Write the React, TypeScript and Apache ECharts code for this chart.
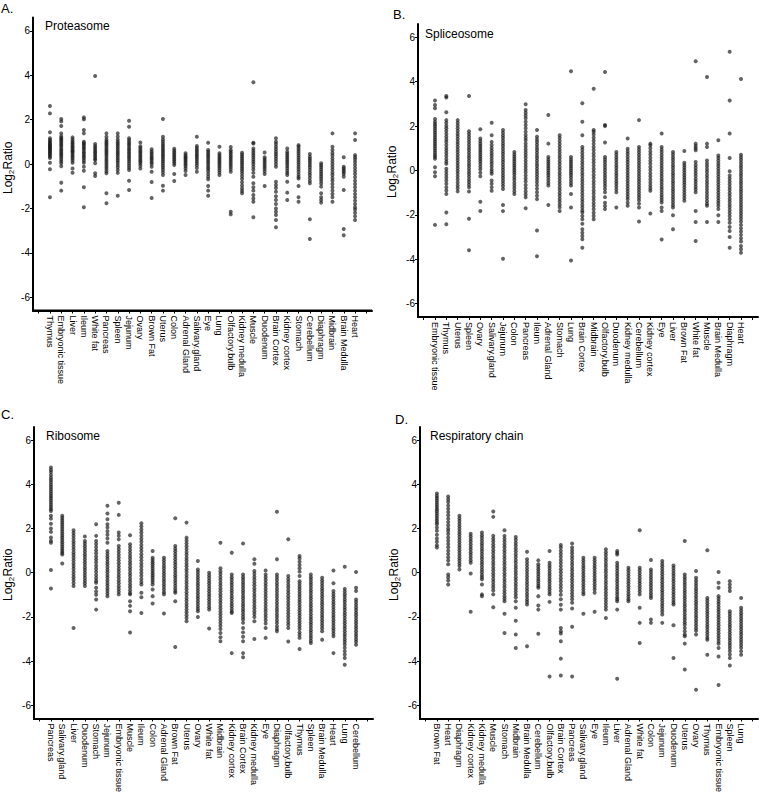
import React, { useEffect, useRef } from "react";
import * as echarts from "echarts";

const FONT = "'Liberation Sans', Arial, Helvetica, sans-serif";

// ---------- Panel A: Proteasome ----------
const proteasomeTissues = ["Thymus", "Embryonic tissue", "Liver", "Ileum", "White fat", "Pancreas", "Spleen", "Jejunum", "Ovary", "Brown Fat", "Uterus", "Colon", "Adrenal Gland", "Salivary.gland", "Eye", "Lung", "Olfactory.bulb", "Kidney medulla", "Muscle", "Duodenum", "Brain Cortex", "Kidney cortex", "Stomach", "Cerebellum", "Diaphragm", "Midbrain", "Brain Medulla", "Heart"];
const proteasomeValues = [
  [2.61, 2.28, 1.43, 1.16, 1.08, 1.02, 0.96, 0.9, 0.86, 0.81, 0.77, 0.72, 0.68, 0.63, 0.57, 0.52, 0.46, 0.41, 0.34, 0.27, 0.06, -0.24, -1.5],
  [2.03, 1.92, 1.71, 1.38, 1.25, 1.17, 1.12, 1.05, 0.98, 0.9, 0.83, 0.75, 0.66, 0.6, 0.52, 0.45, 0.38, 0.3, 0.21, 0.12, 0.03, -0.1, -0.84, -1.2],
  [1.2, 1.1, 1.02, 0.95, 0.88, 0.8, 0.74, 0.66, 0.6, 0.55, 0.48, 0.4, 0.33, 0.25, 0.16, 0.06, -0.2, -0.39],
  [2.1, 2.01, 1.53, 1.38, 1.0, 0.93, 0.88, 0.8, 0.72, 0.65, 0.55, 0.48, 0.4, 0.33, 0.25, 0.15, 0.05, -0.12, -0.3, -1.05, -1.95],
  [3.96, 0.9, 0.8, 0.72, 0.63, 0.55, 0.48, 0.4, 0.33, 0.24, 0.18, 0.03, -0.42, -0.54],
  [1.38, 1.23, 1.1, 1.02, 0.95, 0.88, 0.8, 0.71, 0.63, 0.55, 0.47, 0.4, 0.31, 0.22, 0.14, 0.05, -0.04, -0.13, -0.22, -0.33, -0.42, -1.32, -1.77],
  [1.38, 1.24, 1.1, 1.0, 0.92, 0.84, 0.75, 0.66, 0.58, 0.5, 0.42, 0.33, 0.24, 0.15, 0.06, -0.05, -0.15, -0.27, -0.4, -1.43],
  [1.95, 1.68, 1.16, 1.07, 0.98, 0.9, 0.82, 0.72, 0.64, 0.55, 0.47, 0.38, 0.3, 0.22, 0.13, 0.03, -0.07, -0.17, -0.27, -0.75, -1.17],
  [0.97, 0.8, 0.72, 0.63, 0.55, 0.48, 0.4, 0.33, 0.25, 0.17, 0.1, 0.02, -0.08, -0.2],
  [0.66, 0.56, 0.48, 0.4, 0.32, 0.25, 0.17, 0.08, 0.0, -0.12, -0.35, -0.81, -1.53],
  [2.03, 1.23, 1.1, 1.0, 0.9, 0.81, 0.72, 0.63, 0.55, 0.46, 0.38, 0.3, 0.21, 0.12, 0.03, -0.07, -0.16, -0.26, -0.37, -0.5, -0.98, -1.2],
  [0.69, 0.6, 0.52, 0.44, 0.36, 0.28, 0.2, 0.12, 0.04, -0.05, -0.45, -0.77],
  [0.48, 0.4, 0.33, 0.27, 0.2, 0.13, 0.06, -0.02, -0.1, -0.2, -0.32, -0.5],
  [1.23, 0.81, 0.72, 0.63, 0.55, 0.46, 0.38, 0.3, 0.22, 0.13, 0.04, -0.06, -0.18, -0.35],
  [0.96, 0.63, 0.55, 0.46, 0.38, 0.3, 0.21, 0.12, 0.04, -0.05, -0.14, -0.23, -0.33, -0.45, -0.57, -0.69, -0.99, -1.2, -1.43],
  [0.78, 0.48, 0.4, 0.32, 0.24, 0.16, 0.08, 0.0, -0.09, -0.18, -0.28, -0.38, -0.5],
  [0.77, 0.63, 0.55, 0.47, 0.38, 0.3, 0.22, 0.14, 0.05, -0.04, -0.13, -0.24, -0.35, -2.15, -2.27],
  [0.51, 0.42, 0.33, 0.24, 0.15, 0.06, -0.03, -0.13, -0.22, -0.32, -0.43, -0.55, -0.68, -0.82, -0.97, -1.1, -1.22, -1.32],
  [3.68, 0.96, 0.92, 0.7, 0.6, 0.5, 0.4, 0.3, 0.2, 0.1, 0.0, -0.12, -0.25, -0.4, -0.57, -0.87, -1.05, -1.2, -1.4, -1.55, -1.7, -2.4],
  [0.52, 0.3, 0.22, 0.14, 0.05, -0.04, -0.13, -0.22, -0.33, -0.45, -0.99],
  [1.16, 1.0, 0.9, 0.78, 0.66, 0.55, 0.45, 0.35, 0.24, 0.12, 0.0, -0.12, -0.8, -0.95, -1.08, -1.25, -1.45, -1.62, -1.8, -2.0, -2.15, -2.3, -2.52, -2.85],
  [0.7, 0.55, 0.46, 0.37, 0.28, 0.19, 0.1, 0.01, -0.09, -0.19, -0.3, -0.4, -0.5, -0.8, -1.29, -1.62],
  [0.85, 0.78, 0.68, 0.58, 0.48, 0.38, 0.28, 0.18, 0.08, -0.02, -0.13, -0.24, -0.35, -0.47, -0.58, -0.65, -0.99, -1.5, -1.7],
  [0.45, 0.33, 0.24, 0.15, 0.05, -0.05, -0.15, -0.26, -0.38, -0.5, -0.62, -0.75, -0.87, -2.49, -3.38],
  [0.03, -0.06, -0.15, -0.25, -0.35, -0.45, -0.55, -0.65, -0.76, -0.88, -1.02, -1.32, -1.5, -1.62, -1.74],
  [1.38, 0.78, 0.63, 0.5, 0.38, 0.25, 0.12, 0.0, -0.12, -0.25, -0.38, -0.5, -0.63, -0.75, -0.9, -1.05, -1.2, -1.35, -1.5, -1.7],
  [0.3, -0.12, -0.2, -0.28, -0.36, -0.45, -0.57, -1.17, -2.93, -3.21],
  [1.38, 1.08, 0.4, 0.3, 0.2, 0.08, -0.05, -0.18, -0.32, -0.45, -0.6, -0.75, -0.9, -1.05, -1.2, -1.35, -1.5, -1.65, -1.8, -1.95, -2.05, -2.2, -2.35, -2.52],
];

// ---------- Panel B: Spliceosome ----------
const spliceosomeTissues = ["Embryonic tissue", "Thymus", "Uterus", "Spleen", "Ovary", "Salivary.gland", "Jejunum", "Colon", "Pancreas", "Ileum", "Adrenal Gland", "Stomach", "Lung", "Brain Cortex", "Midbrain", "Olfactory.bulb", "Duodenum", "Kidney medulla", "Cerebellum", "Kidney cortex", "Eye", "Liver", "Brown Fat", "White fat", "Muscle", "Brain Medulla", "Diaphragm", "Heart"];
const spliceosomeValues = [
  [3.15, 2.95, 2.8, 2.32, 2.2, 2.1, 2.0, 1.9, 1.8, 1.7, 1.6, 1.5, 1.4, 1.3, 1.2, 1.1, 1.0, 0.9, 0.8, 0.7, 0.62, 0.53, 0.15, -0.08, -0.26, -2.45],
  [3.36, 3.29, 2.62, 2.27, 2.15, 2.02, 1.9, 1.78, 1.65, 1.52, 1.4, 1.28, 1.15, 1.02, 0.9, 0.78, 0.65, 0.52, 0.4, 0.3, 0.08, -0.05, -0.18, -0.32, -0.45, -0.6, -0.75, -0.9, -1.06, -1.89, -2.42],
  [2.27, 2.15, 2.03, 1.9, 1.78, 1.66, 1.54, 1.42, 1.3, 1.18, 1.06, 0.94, 0.82, 0.7, 0.58, 0.46, 0.34, 0.22, 0.1, -0.02, -0.14, -0.27, -0.4, -0.54, -0.68, -0.8, -0.94],
  [3.36, 1.77, 1.65, 1.53, 1.41, 1.29, 1.17, 1.05, 0.93, 0.81, 0.69, 0.57, 0.45, 0.33, 0.21, 0.09, -0.03, -0.15, -0.27, -0.4, -0.52, -0.64, -0.76, -0.95, -2.17, -3.59],
  [1.86, 1.44, 1.33, 1.22, 1.12, 1.02, 0.92, 0.82, 0.72, 0.62, 0.52, 0.42, 0.3, 0.18, 0.06, -0.1, -0.26, -1.41, -1.82],
  [2.15, 1.59, 1.29, 1.15, 1.02, 0.9, 0.78, 0.66, 0.54, 0.42, 0.3, 0.18, 0.05, -0.05, -0.15, -0.45, -0.6, -0.75, -0.91],
  [1.82, 1.7, 1.58, 1.46, 1.34, 1.22, 1.1, 0.98, 0.86, 0.74, 0.62, 0.5, 0.38, 0.26, 0.14, 0.02, -0.1, -0.22, -0.34, -0.46, -0.58, -0.7, -0.83, -1.55, -1.83, -3.98],
  [0.83, 0.72, 0.62, 0.52, 0.42, 0.32, 0.22, 0.12, 0.02, -0.08, -0.18, -0.3, -0.42, -0.55, -0.68, -0.8, -0.93, -1.06],
  [2.98, 2.73, 2.6, 2.48, 2.35, 2.2, 2.05, 1.9, 1.75, 1.6, 1.48, 1.36, 1.22, 1.08, 0.95, 0.82, 0.7, 0.57, 0.44, 0.31, 0.18, 0.05, -0.08, -0.22, -0.36, -0.5, -0.65, -0.8, -0.95, -1.08, -1.21, -1.7],
  [1.82, 1.52, 1.4, 1.28, 1.16, 1.04, 0.92, 0.8, 0.68, 0.56, 0.44, 0.32, 0.2, 0.08, -0.04, -0.16, -0.28, -0.4, -0.53, -0.67, -0.82, -0.98, -1.14, -1.29, -2.7, -3.86],
  [2.5, 1.21, 0.61, 0.5, 0.4, 0.3, 0.2, 0.1, 0.0, -0.1, -0.2, -0.32, -0.44, -0.56, -0.68, -1.55],
  [1.59, 1.46, 1.33, 1.2, 1.07, 0.94, 0.81, 0.68, 0.55, 0.42, 0.29, 0.16, 0.03, -0.1, -0.23, -0.36, -0.49, -0.62, -0.75, -0.88, -1.01, -1.14, -1.27, -1.4, -1.53, -1.66, -1.82],
  [4.47, 0.61, 0.5, 0.4, 0.3, 0.2, 0.1, 0.0, -0.1, -0.2, -0.32, -0.44, -0.56, -0.68, -1.06, -1.67, -4.05],
  [3.03, 2.2, 1.59, 1.06, 0.93, 0.8, 0.67, 0.54, 0.41, 0.28, 0.15, 0.02, -0.11, -0.24, -0.37, -0.5, -0.63, -0.76, -0.89, -1.02, -1.15, -1.28, -1.41, -1.54, -1.67, -1.8, -1.89, -2.05, -2.2, -2.4, -2.65, -2.8, -2.95, -3.1, -3.48],
  [3.68, 1.82, 1.75, 1.62, 1.48, 1.34, 1.2, 1.06, 0.92, 0.78, 0.64, 0.5, 0.36, 0.22, 0.08, -0.06, -0.2, -0.34, -0.48, -0.62, -0.76, -0.9, -1.04, -1.18, -1.32, -1.46, -1.6, -1.75, -1.9, -2.05, -2.2],
  [4.44, 2.05, 2.0, 1.26, 0.61, 0.5, 0.38, 0.26, 0.14, 0.02, -0.1, -0.22, -0.34, -0.46, -0.58, -0.7, -0.83, -0.98, -1.2, -1.45, -1.6, -1.74],
  [0.83, 0.72, 0.6, 0.48, 0.36, 0.24, 0.12, 0.0, -0.12, -0.24, -0.36, -0.48, -0.6, -0.72, -0.85, -0.98, -1.67],
  [1.44, 0.98, 0.86, 0.74, 0.62, 0.5, 0.38, 0.26, 0.14, 0.02, -0.1, -0.22, -0.34, -0.46, -0.58, -0.7, -0.82, -0.94, -1.06, -1.18, -1.3, -1.45, -1.59],
  [2.27, 1.06, 0.94, 0.82, 0.7, 0.58, 0.46, 0.34, 0.22, 0.1, -0.02, -0.14, -0.26, -0.38, -0.5, -0.62, -0.74, -0.86, -0.98, -1.1, -1.22, -1.34, -1.5, -1.67, -2.3],
  [1.21, 1.14, 1.0, 0.86, 0.72, 0.58, 0.44, 0.3, 0.16, 0.02, -0.12, -0.26, -0.4, -0.54, -0.68, -0.8, -0.91, -1.94],
  [1.67, 1.06, 0.94, 0.82, 0.7, 0.58, 0.46, 0.34, 0.22, 0.1, -0.02, -0.14, -0.26, -0.38, -0.5, -0.62, -0.74, -0.86, -0.98, -1.1, -1.22, -1.33, -1.44, -1.67, -1.82, -3.11],
  [0.83, 0.72, 0.6, 0.48, 0.36, 0.24, 0.12, 0.0, -0.12, -0.24, -0.36, -0.48, -0.6, -0.72, -0.84, -0.96, -1.08, -1.2, -1.32, -1.44, -1.56, -1.67, -2.02, -2.65],
  [0.88, 0.35, 0.24, 0.13, 0.02, -0.09, -0.2, -0.31, -0.42, -0.53, -0.64, -0.76, -0.88, -1.0, -1.12, -1.24, -1.36],
  [4.92, 1.21, 1.1, 1.0, 0.91, 0.38, 0.25, 0.12, 0.0, -0.12, -0.25, -0.38, -0.5, -0.62, -0.74, -0.86, -0.98, -1.82, -2.32, -3.18],
  [4.21, 1.21, 1.06, 0.45, 0.32, 0.19, 0.06, -0.07, -0.2, -0.33, -0.46, -0.59, -0.72, -0.85, -0.98, -1.11, -1.24, -1.37, -1.5, -1.59, -2.32],
  [1.36, 0.68, 0.56, 0.44, 0.32, 0.2, 0.08, -0.04, -0.16, -0.28, -0.4, -0.52, -0.64, -0.76, -0.88, -1.0, -1.12, -1.24, -1.36, -1.48, -1.6, -1.74, -2.02, -2.32],
  [5.35, 3.15, 1.67, 0.56, -0.03, -0.23, -0.36, -0.49, -0.62, -0.75, -0.88, -1.01, -1.14, -1.27, -1.4, -1.53, -1.66, -1.79, -1.92, -2.05, -2.2, -2.35, -2.55, -2.73, -3.0, -3.48],
  [4.12, 0.71, 0.6, 0.48, 0.36, 0.24, 0.12, 0.0, -0.12, -0.24, -0.36, -0.48, -0.6, -0.72, -0.84, -0.96, -1.08, -1.2, -1.32, -1.44, -1.56, -1.68, -1.8, -1.92, -2.04, -2.16, -2.3, -2.45, -2.6, -2.75, -2.9, -3.05, -3.2, -3.4, -3.55, -3.71],
];

// ---------- Panel C: Ribosome ----------
const ribosomeTissues = ["Pancreas", "Salivary.gland", "Liver", "Duodenum", "Stomach", "Jejunum", "Embryonic tissue", "Muscle", "Ileum", "Colon", "Adrenal Gland", "Brown Fat", "Uterus", "Ovary", "White fat", "Midbrain", "Kidney cortex", "Brain Cortex", "Kidney medulla", "Eye", "Diaphragm", "Olfactory.bulb", "Thymus", "Spleen", "Brain Medulla", "Heart", "Lung", "Cerebellum"];
const ribosomeValues = [
  [4.77, 4.65, 4.55, 4.42, 4.3, 4.2, 4.1, 3.98, 3.88, 3.78, 3.68, 3.58, 3.48, 3.38, 3.28, 3.18, 3.08, 2.98, 2.88, 2.8, 2.58, 2.45, 2.22, 2.0, 1.85, 1.6, 1.45, 1.36, 0.12, -0.71],
  [2.58, 2.48, 2.38, 2.28, 2.18, 2.08, 1.98, 1.88, 1.78, 1.68, 1.58, 1.48, 1.38, 1.28, 1.18, 1.08, 0.98, 0.9, 0.83, 0.42],
  [1.92, 1.8, 1.68, 1.55, 1.42, 1.3, 1.18, 1.05, 0.92, 0.8, 0.68, 0.55, 0.42, 0.3, 0.18, 0.05, -0.08, -0.2, -0.33, -0.46, -0.6, -2.5],
  [1.64, 1.44, 1.32, 1.2, 1.08, 0.96, 0.84, 0.72, 0.6, 0.48, 0.36, 0.24, 0.12, 0.0, -0.12, -0.24, -0.36, -0.48, -0.6],
  [2.2, 1.67, 1.44, 1.3, 1.16, 1.02, 0.88, 0.74, 0.6, 0.46, 0.32, 0.18, 0.04, -0.1, -0.24, -0.36, -0.45, -0.68, -0.85, -1.0, -1.21, -1.67],
  [3.03, 2.68, 2.42, 2.2, 2.05, 1.88, 1.72, 1.55, 1.36, 0.98, 0.86, 0.74, 0.62, 0.5, 0.38, 0.26, 0.14, 0.02, -0.1, -0.22, -0.34, -0.46, -0.58, -0.7, -0.82, -0.94, -1.06],
  [3.17, 2.62, 1.82, 1.68, 1.52, 1.21, 1.08, 0.95, 0.82, 0.69, 0.56, 0.43, 0.3, 0.17, 0.04, -0.09, -0.22, -0.35, -0.48, -0.61, -0.74, -0.86, -0.98],
  [1.7, 1.29, 1.16, 1.03, 0.9, 0.77, 0.64, 0.51, 0.38, 0.25, 0.12, -0.01, -0.14, -0.27, -0.4, -0.53, -0.66, -0.79, -0.92, -0.98, -1.29, -1.5, -1.74, -2.71],
  [2.24, 2.1, 1.96, 1.82, 1.68, 1.54, 1.4, 1.26, 1.12, 0.98, 0.84, 0.7, 0.56, 0.42, 0.28, 0.14, 0.0, -0.14, -0.28, -0.42, -0.53, -0.91, -1.11, -1.82],
  [0.98, 0.68, 0.58, 0.48, 0.38, 0.28, 0.18, 0.08, -0.02, -0.12, -0.22, -0.32, -0.42, -0.53, -0.76, -1.06, -1.39],
  [0.68, 0.56, 0.44, 0.32, 0.2, 0.08, -0.04, -0.16, -0.28, -0.4, -0.52, -0.64, -0.76, -0.88, -0.98, -1.85],
  [2.47, 1.21, 1.09, 0.97, 0.85, 0.73, 0.61, 0.49, 0.37, 0.25, 0.13, 0.01, -0.11, -0.23, -0.35, -0.47, -0.59, -0.71, -0.83, -0.91, -1.29, -3.36],
  [2.27, 1.59, 1.46, 1.33, 1.2, 1.07, 0.94, 0.81, 0.68, 0.55, 0.42, 0.29, 0.16, 0.03, -0.1, -0.23, -0.36, -0.49, -0.62, -0.75, -0.88, -1.01, -1.14, -1.27, -1.4, -1.53, -1.66, -1.79, -1.92, -2.05, -2.2],
  [0.53, 0.15, 0.03, -0.09, -0.21, -0.33, -0.45, -0.57, -0.69, -0.81, -0.93, -1.05, -1.17, -1.29, -1.41, -1.53, -1.64, -1.74, -2.0],
  [0.0, -0.12, -0.24, -0.36, -0.48, -0.6, -0.72, -0.84, -0.96, -1.08, -1.2, -1.32, -1.44, -1.56, -1.67, -2.53],
  [1.36, 0.2, 0.07, -0.06, -0.19, -0.32, -0.45, -0.58, -0.71, -0.84, -0.97, -1.1, -1.23, -1.36, -1.49, -1.62, -1.75, -1.88, -2.01, -2.14, -2.27, -2.4, -2.55, -2.73, -2.92, -3.1],
  [0.91, -0.08, -0.2, -0.32, -0.44, -0.56, -0.68, -0.8, -0.92, -1.04, -1.16, -1.28, -1.4, -1.52, -1.64, -1.76, -1.82, -3.64],
  [1.32, -0.08, -0.2, -0.32, -0.44, -0.56, -0.68, -0.8, -0.92, -1.04, -1.16, -1.28, -1.4, -1.52, -1.64, -1.76, -1.88, -2.0, -2.12, -2.27, -2.5, -2.7, -2.9, -3.1, -3.64, -3.83],
  [0.61, 0.41, 0.08, -0.05, -0.18, -0.31, -0.44, -0.57, -0.7, -0.83, -0.96, -1.09, -1.22, -1.35, -1.48, -1.61, -1.74, -1.87, -2.0, -2.2, -3.0],
  [0.1, -0.08, -0.2, -0.33, -0.46, -0.59, -0.72, -0.85, -0.98, -1.11, -1.24, -1.37, -1.5, -1.63, -1.76, -1.89, -2.02, -2.15, -2.3, -2.5, -2.95],
  [2.76, 0.61, -0.08, -0.2, -0.33, -0.46, -0.59, -0.72, -0.85, -0.98, -1.11, -1.24, -1.37, -1.5, -1.63, -1.76, -1.89, -2.02, -2.15, -2.28, -2.42, -2.55, -2.65],
  [1.52, -0.15, -0.28, -0.41, -0.54, -0.67, -0.8, -0.93, -1.06, -1.19, -1.32, -1.45, -1.58, -1.71, -1.84, -1.97, -2.1, -2.23, -2.36, -2.5, -3.11],
  [0.76, 0.65, 0.5, 0.35, 0.2, 0.05, -0.15, -0.38, -0.5, -0.62, -0.74, -0.86, -0.98, -1.1, -1.22, -1.34, -1.46, -1.58, -1.7, -1.82, -1.94, -2.06, -2.18, -2.3, -2.42, -2.55, -2.7, -2.82, -2.95, -3.45],
  [-0.08, -0.2, -0.32, -0.44, -0.56, -0.68, -0.8, -0.92, -1.04, -1.16, -1.28, -1.4, -1.52, -1.64, -1.76, -1.88, -2.0, -2.12, -2.24, -2.36, -2.48, -2.6, -2.72, -2.84, -2.96, -3.08, -3.18],
  [-0.23, -0.35, -0.47, -0.59, -0.71, -0.83, -0.95, -1.07, -1.19, -1.31, -1.43, -1.55, -1.67, -1.79, -1.91, -2.03, -2.15, -2.27, -2.39, -2.51, -2.65, -3.03],
  [0.1, -0.48, -0.83, -0.95, -1.07, -1.19, -1.31, -1.43, -1.55, -1.67, -1.79, -1.91, -2.03, -2.15, -2.27, -2.39, -2.51, -2.63, -2.75, -2.88, -3.64],
  [0.27, -0.73, -0.85, -0.97, -1.09, -1.21, -1.33, -1.45, -1.57, -1.69, -1.81, -1.93, -2.05, -2.17, -2.29, -2.41, -2.53, -2.65, -2.77, -2.89, -3.01, -3.13, -3.25, -3.4, -3.55, -3.7, -3.86, -4.17],
  [0.03, -0.68, -0.83, -1.21, -1.33, -1.45, -1.57, -1.69, -1.81, -1.93, -2.05, -2.17, -2.29, -2.41, -2.53, -2.65, -2.77, -2.89, -3.01, -3.13, -3.26],
];

// ---------- Panel D: Respiratory chain ----------
const respiratoryTissues = ["Brown Fat", "Heart", "Diaphragm", "Kidney cortex", "Kidney medulla", "Muscle", "Stomach", "Midbrain", "Brain Medulla", "Cerebellum", "Olfactory.bulb", "Brain Cortex", "Pancreas", "Salivary.gland", "Eye", "Ileum", "Liver", "Adrenal Gland", "White fat", "Colon", "Jejunum", "Duodenum", "Uterus", "Ovary", "Thymus", "Embryonic tissue", "Spleen", "Lung"];
const respiratoryValues = [
  [3.59, 3.48, 3.38, 3.28, 3.18, 3.08, 2.98, 2.88, 2.78, 2.68, 2.58, 2.48, 2.38, 2.28, 2.2, 2.05, 1.9, 1.72, 1.55, 1.4, 1.25, 1.14],
  [3.45, 3.33, 3.2, 3.05, 2.9, 2.75, 2.6, 2.45, 2.3, 2.15, 2.0, 1.89, 1.75, 1.6, 1.45, 1.3, 1.15, 1.0, 0.85, 0.7, 0.55, 0.38, -0.08, -0.2, -0.35, -0.53],
  [2.58, 2.46, 2.34, 2.22, 2.1, 1.98, 1.86, 1.74, 1.62, 1.5, 1.38, 1.26, 1.14, 1.02, 0.9, 0.78, 0.66, 0.54, 0.42, 0.3, 0.15],
  [1.77, 1.65, 1.53, 1.41, 1.29, 1.17, 1.05, 0.93, 0.81, 0.69, 0.57, 0.45, -0.03, -1.77],
  [1.82, 1.7, 1.58, 1.46, 1.34, 1.22, 1.1, 0.98, 0.86, 0.74, 0.62, 0.5, 0.38, 0.26, 0.14, 0.02, -0.1, -0.2, -0.3, -0.53, -0.98, -1.06],
  [2.77, 2.53, 1.67, 1.54, 1.41, 1.28, 1.15, 1.02, 0.89, 0.76, 0.63, 0.5, 0.37, 0.24, 0.11, -0.02, -0.15, -0.28, -0.41, -0.54, -0.67, -0.8, -0.98, -1.56],
  [1.92, 1.67, 1.54, 1.41, 1.28, 1.15, 1.02, 0.89, 0.76, 0.63, 0.5, 0.37, 0.24, 0.11, -0.02, -0.15, -0.28, -0.41, -0.54, -0.67, -0.8, -0.93, -1.06, -1.18, -1.29, -1.86, -2.73],
  [1.62, 1.49, 1.36, 1.23, 1.1, 0.97, 0.84, 0.71, 0.58, 0.45, 0.32, 0.19, 0.06, -0.07, -0.2, -0.33, -0.46, -0.59, -0.72, -0.85, -0.98, -1.11, -1.29, -1.59, -2.17, -2.8, -3.41],
  [0.95, 0.61, 0.48, 0.35, 0.22, 0.09, -0.04, -0.17, -0.3, -0.43, -0.56, -0.69, -0.82, -0.95, -1.08, -1.21, -1.33, -1.44, -3.33],
  [0.56, 0.38, 0.27, 0.16, 0.05, -0.06, -0.17, -0.28, -0.39, -0.5, -0.6, -0.68, -1.06, -1.48, -1.67, -2.76],
  [0.98, 0.45, 0.33, 0.21, 0.09, -0.03, -0.15, -0.27, -0.39, -0.51, -0.63, -0.75, -0.87, -0.98, -1.32, -4.7],
  [1.26, 1.14, 1.0, 0.86, 0.72, 0.58, 0.44, 0.3, 0.16, 0.02, -0.12, -0.26, -0.4, -0.54, -0.68, -0.83, -1.0, -1.2, -1.45, -1.67, -2.5, -2.65, -2.75, -3.1, -3.89, -4.65],
  [1.32, 1.14, 1.01, 0.88, 0.75, 0.62, 0.49, 0.36, 0.23, 0.1, -0.03, -0.16, -0.29, -0.42, -0.55, -0.68, -0.81, -0.94, -1.07, -1.2, -1.36, -1.62, -2.45, -4.7],
  [0.68, 0.56, 0.44, 0.32, 0.2, 0.08, -0.04, -0.16, -0.28, -0.4, -0.52, -0.64, -0.76, -0.88, -0.98, -1.86],
  [0.68, 0.56, 0.44, 0.32, 0.2, 0.08, -0.04, -0.16, -0.28, -0.4, -0.52, -0.64, -0.76, -0.91, -1.77],
  [1.06, 0.93, 0.8, 0.67, 0.54, 0.41, 0.28, 0.15, 0.02, -0.11, -0.24, -0.37, -0.5, -0.63, -0.76, -0.89, -1.02, -1.15, -1.28, -1.41, -1.54, -1.67, -2.05],
  [0.98, 0.9, 0.83, 0.45, 0.33, 0.21, 0.09, -0.03, -0.15, -0.27, -0.39, -0.51, -0.63, -0.75, -0.87, -0.99, -1.11, -1.2, -1.29, -1.67, -4.8],
  [0.23, 0.11, -0.01, -0.13, -0.25, -0.37, -0.49, -0.61, -0.73, -0.85, -0.97, -1.09, -1.2, -1.29],
  [1.92, 0.23, 0.11, -0.01, -0.13, -0.25, -0.37, -0.49, -0.61, -0.73, -0.85, -0.98, -1.59, -2.27, -3.18],
  [0.58, 0.15, 0.03, -0.09, -0.21, -0.33, -0.45, -0.57, -0.69, -0.81, -0.93, -1.04, -1.14, -2.12, -2.27],
  [0.53, 0.41, 0.29, 0.17, 0.05, -0.07, -0.19, -0.31, -0.43, -0.55, -0.67, -0.79, -0.91, -1.03, -1.15, -1.27, -1.39, -1.51, -1.63, -1.76, -1.89, -2.27],
  [0.33, 0.21, 0.09, -0.03, -0.15, -0.27, -0.39, -0.51, -0.63, -0.75, -0.87, -0.99, -1.11, -1.23, -1.35, -1.44, -2.38, -3.86],
  [1.44, -0.08, -0.2, -0.32, -0.44, -0.56, -0.68, -0.8, -0.92, -1.04, -1.16, -1.28, -1.4, -1.52, -1.64, -1.76, -1.88, -2.0, -2.12, -2.24, -2.36, -2.5, -2.65, -2.8, -2.88, -3.21, -4.38],
  [0.08, -0.23, -0.35, -0.47, -0.59, -0.71, -0.83, -0.95, -1.07, -1.19, -1.31, -1.43, -1.55, -1.67, -1.79, -1.91, -2.03, -2.15, -2.27, -2.39, -2.51, -2.63, -2.8, -5.3],
  [1.02, -1.14, -1.26, -1.38, -1.5, -1.62, -1.74, -1.86, -1.98, -2.1, -2.22, -2.34, -2.46, -2.58, -2.7, -2.82, -2.94, -3.03, -3.71],
  [0.03, -0.45, -0.68, -1.06, -1.18, -1.3, -1.42, -1.54, -1.66, -1.78, -1.9, -2.02, -2.14, -2.26, -2.38, -2.5, -2.62, -2.74, -2.86, -2.98, -3.1, -3.22, -3.41, -3.79, -5.08],
  [-0.38, -0.53, -0.68, -0.83, -1.74, -1.86, -1.98, -2.1, -2.22, -2.34, -2.46, -2.58, -2.7, -2.82, -2.94, -3.06, -3.18, -3.3, -3.42, -3.55, -3.7, -3.86, -4.2],
  [-1.14, -1.59, -1.71, -1.83, -1.95, -2.07, -2.19, -2.31, -2.43, -2.55, -2.67, -2.79, -2.91, -3.03, -3.15, -3.27, -3.4, -3.55, -3.71],
];

const yTickValues = [-6, -4, -2, 0, 2, 4, 6];
const panelTitles = ["Proteasome", "Spliceosome", "Ribosome", "Respiratory chain"];
const panelLetters = ["A.", "B.", "C.", "D."];

const panels = [
  { tissues: proteasomeTissues, values: proteasomeValues, grid: { left: 33, top: 17.5, width: 339, height: 293 } },
  { tissues: spliceosomeTissues, values: spliceosomeValues, grid: { left: 418, top: 24, width: 340, height: 293 } },
  { tissues: ribosomeTissues, values: ribosomeValues, grid: { left: 34, top: 427, width: 339, height: 292 } },
  { tissues: respiratoryTissues, values: respiratoryValues, grid: { left: 420, top: 427, width: 338, height: 292 } },
];

const letterPos = [[1, 9], [393, 15], [1, 415], [395, 420]];
const titlePos = [[45, 27], [425, 35], [46, 437], [430, 437]];
const ylabelPos = [[8, 168], [392, 172], [8, 575], [394, 575]];

export default function App() {
  const ref = useRef<HTMLDivElement>(null);
  useEffect(() => {
    if (!ref.current) return;
    const chart = echarts.init(ref.current, null, { renderer: "svg" });
    const grids: any[] = [];
    const xAxes: any[] = [];
    const yAxes: any[] = [];
    const series: any[] = [];
    const graphics: any[] = [];
    panels.forEach((p, i) => {
      const g = p.grid;
      grids.push({ ...g });
      xAxes.push({
        type: "category",
        gridIndex: i,
        data: [" ", ...p.tissues, "  "],
        boundaryGap: true,
        axisLine: { show: true, onZero: false, lineStyle: { color: "#000", width: 2 } },
        axisTick: { show: true, alignWithLabel: true, length: 3, interval: 0 },
        axisLabel: { rotate: -90, interval: 0, fontSize: 9, color: "#000", margin: 5, fontFamily: FONT },
      });
      yAxes.push({
        type: "value",
        gridIndex: i,
        min: -6.6,
        max: 6.6,
        axisLine: { show: true, onZero: false, lineStyle: { color: "#000", width: 2 } },
        axisTick: { show: true, length: 3, customValues: yTickValues },
        axisLabel: { customValues: yTickValues, fontSize: 10, color: "#000", margin: 3, fontFamily: FONT },
        splitLine: { show: false },
      });
      const data: number[][] = [];
      p.values.forEach((vals, ci) => vals.forEach((v) => data.push([ci + 1, v])));
      series.push({
        type: "scatter",
        xAxisIndex: i,
        yAxisIndex: i,
        data,
        symbol: "circle",
        symbolSize: 4,
        itemStyle: { color: "rgba(25,25,25,0.85)" },
      });
      graphics.push({
        type: "polyline",
        silent: true,
        z: 100,
        shape: { points: [[g.left, g.top], [g.left, g.top + g.height], [g.left + g.width, g.top + g.height]] },
        style: { stroke: "#000", lineWidth: 2, fill: null },
      });
      graphics.push({
        type: "text",
        left: letterPos[i][0],
        top: letterPos[i][1] - 7,
        style: { text: panelLetters[i], fontSize: 13, fill: "#000", fontFamily: FONT },
      });
      graphics.push({
        type: "text",
        left: titlePos[i][0],
        top: titlePos[i][1] - 7,
        style: { text: panelTitles[i], fontSize: 12, fill: "#000", fontFamily: FONT },
      });
      const [cx, cy] = ylabelPos[i];
      graphics.push({
        type: "text",
        x: cx,
        y: cy + 16,
        rotation: Math.PI / 2,
        style: { text: "Log", fontSize: 12, fontFamily: FONT, fill: "#000", align: "center", verticalAlign: "middle" },
      });
      graphics.push({
        type: "text",
        x: cx + 3,
        y: cy + 4,
        rotation: Math.PI / 2,
        style: { text: "2", fontSize: 8, fontFamily: FONT, fill: "#000", align: "center", verticalAlign: "middle" },
      });
      graphics.push({
        type: "text",
        x: cx,
        y: cy - 12.5,
        rotation: Math.PI / 2,
        style: { text: "Ratio", fontSize: 12, fontFamily: FONT, fill: "#000", align: "center", verticalAlign: "middle" },
      });
    });
    chart.setOption({
      animation: false,
      backgroundColor: "#fff",
      grid: grids,
      xAxis: xAxes,
      yAxis: yAxes,
      series,
      graphic: graphics,
    });
    return () => chart.dispose();
  }, []);
  return (
    <div
      ref={ref}
      style={{ position: "absolute", left: 0, top: 0, width: 760, height: 795 }}
    />
  );
}
